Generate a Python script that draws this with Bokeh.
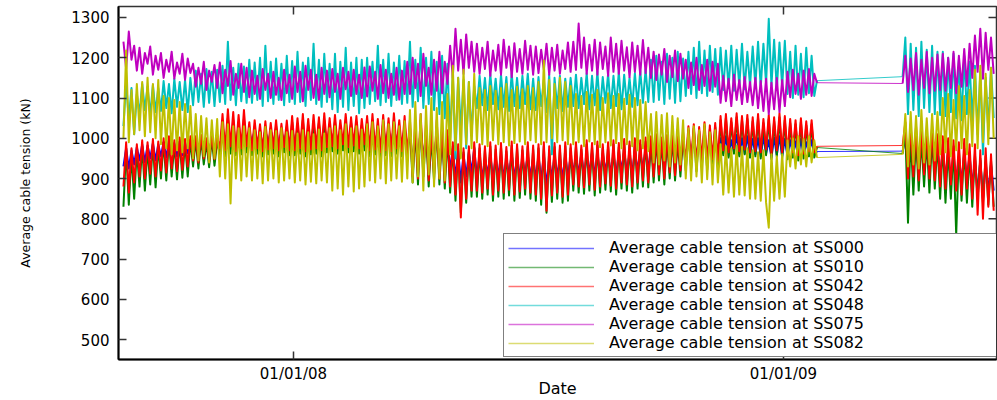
import math
import pandas as pd
from datetime import datetime, timedelta
from bokeh.plotting import figure
from bokeh.models import (ColumnDataSource, Range1d, FixedTicker, DatetimeTickFormatter,
                          Legend, LegendItem)
from bokeh.embed import file_html
from bokeh.resources import INLINE

# ---------------- data (2-day samples) ----------------
SEG1_START = "2007-08-27"   # first recording period
SEG2_START = "2009-03-31"   # second recording period (after the gap)
STEP = "2D"

stations = ["SS000", "SS010", "SS042", "SS048", "SS075", "SS082"]
colors = ["#0000FF", "#008000", "#FF0000", "#00BFBF", "#BF00BF", "#BFBF00"]

ss000_a = [930, 975, 925, 970, 935, 978,
           945, 985, 940, 982, 950, 988, 945, 985,
           955, 990, 952, 995, 960, 988, 955, 992, 958, 990, 962, 995,
           965, 995, 962, 998, 968, 990, 965, 1000, 968, 995,
           980, 1010, 978, 1020, 985, 1015, 978, 1010, 982, 1018, 985,
           1020, 982, 1025, 985, 1018, 980, 1022, 982, 1020, 985, 1025, 980, 1018, 988, 1022, 982,
           1025, 982, 1020, 985, 1030, 980, 1018, 982, 1028, 985, 1022, 980, 1030, 988,
           1020, 988, 1028, 985, 1015, 992, 1030, 988, 1022, 990, 1025, 985, 1018, 992,
           1025, 980, 1030, 982, 1018, 978, 1028, 980, 1020, 978, 1030, 985, 1015, 980, 1025,
           975, 1015, 940, 1010, 935, 1025, 950, 1005, 930, 995, 940, 1015, 935, 1005, 925, 995,
           920, 975, 900, 970, 890, 960, 905, 965, 915, 975,
           905, 955, 900, 950, 910, 960, 898, 952, 905, 958, 900, 950, 908, 962, 898, 955, 905, 950, 910, 960, 902, 952,
           900, 955, 895, 960, 880, 950, 900, 958, 905, 952, 898, 960, 902, 955,
           915, 958, 910, 962, 908, 955, 915, 965, 905, 960, 910, 962, 918, 958, 912, 962, 908, 965, 920, 968,
           915, 962, 912, 970, 920, 965, 925, 972, 922,
           975, 930, 980, 935, 972, 925, 978, 940, 982, 935, 975, 945, 985,
           955, 995, 960, 1000, 958, 992, 962, 1005, 958, 998, 965, 1002, 960,
           1000, 962, 1005, 955, 995, 965, 1008, 958, 1000, 962, 1005, 958, 998,
           960, 1000, 955, 1005, 962, 995, 952, 1002, 958, 1005, 955, 998,
           955, 995, 960, 992, 952, 998, 958, 990, 962, 995, 960, 967]
ss000_b = [968, 1000, 920, 995, 925, 990, 915, 985, 930, 980, 920, 990, 925, 975,
           905, 970, 900, 965, 890, 960, 895, 955, 890, 962, 900, 958,
           880, 950, 860, 945, 850, 940, 865, 935, 870]

ss010_a = [830, 975, 835, 960, 850, 970,
           880, 980, 870, 975, 885, 985, 878, 980,
           900, 990, 895, 995, 905, 985, 898, 992, 902, 988, 905, 995,
           930, 995, 925, 998, 935, 990, 928, 1000, 932, 992,
           960, 1040, 955, 1050, 962, 1045, 958, 1040, 960, 1048, 965,
           1025, 958, 1030, 962, 1022, 955, 1028, 960, 1025, 962, 1030, 955, 1022, 965, 1028, 958,
           1040, 958, 1035, 962, 1045, 955, 1032, 960, 1042, 962, 1038, 955, 1045, 965,
           1035, 968, 1042, 962, 1030, 970, 1045, 965, 1038, 968, 1040, 962, 1032, 970,
           1040, 955, 1045, 960, 1032, 952, 1042, 958, 1035, 955, 1045, 962, 1030, 955, 1040,
           945, 1030, 890, 1025, 885, 1045, 905, 1020, 880, 1005, 895, 1030, 885, 1015, 875, 1005,
           865, 980, 845, 975, 815, 965, 840, 970, 855, 978,
           855, 975, 850, 970, 860, 980, 845, 972, 855, 978, 850, 968, 858, 982, 845, 975, 852, 970, 860, 980, 850, 972,
           845, 975, 835, 980, 815, 970, 842, 978, 850, 972, 840, 980, 845, 975,
           870, 980, 865, 972, 862, 985, 870, 978, 858, 982, 865, 975, 872, 980, 868, 985, 860, 978, 875, 988,
           870, 982, 865, 990, 875, 985, 880, 992, 878,
           995, 890, 1000, 895, 992, 885, 998, 900, 1002, 895, 995, 905, 1005,
           920, 1020, 925, 1025, 918, 1018, 930, 1030, 922, 1022, 932, 1028, 928,
           1045, 958, 1050, 952, 1040, 962, 1052, 955, 1045, 960, 1048, 952, 1042,
           955, 1050, 950, 1038, 958, 1048, 948, 1042, 955, 1052, 950, 1045,
           948, 1038, 952, 1035, 945, 1040, 950, 1032, 955, 1035, 952, 977]
ss010_b = [962, 1020, 790, 1010, 860, 1005, 870, 1000, 880, 995, 865, 1005, 875, 990,
           850, 985, 840, 975, 850, 980, 760, 970, 845, 975, 840, 965,
           830, 960, 850, 950, 840, 955, 835, 945, 830]

ss042_a = [880, 990, 865, 975, 890, 985,
           905, 995, 900, 990, 912, 998, 905, 992,
           920, 1000, 915, 1005, 925, 995, 918, 1002, 922, 998, 930, 1005,
           945, 1005, 940, 1008, 950, 1000, 942, 1010, 948, 1002,
           975, 1060, 970, 1072, 980, 1065, 968, 1058, 975, 1070, 980,
           1040, 970, 1045, 975, 1035, 968, 1042, 972, 1038, 975, 1045, 970, 1036, 978, 1044, 970,
           1055, 970, 1050, 975, 1060, 968, 1048, 972, 1058, 975, 1052, 970, 1062, 978,
           1050, 980, 1058, 975, 1045, 985, 1060, 978, 1052, 982, 1055, 975, 1048, 985,
           1055, 970, 1060, 972, 1048, 965, 1058, 970, 1050, 968, 1062, 975, 1045, 968, 1055,
           960, 1045, 905, 1040, 900, 1060, 920, 1035, 895, 1020, 910, 1045, 900, 1030, 890, 1020,
           880, 990, 860, 985, 803, 975, 850, 980, 870, 990,
           870, 985, 865, 980, 875, 990, 860, 982, 870, 988, 865, 978, 872, 992, 860, 985, 868, 980, 875, 990, 865, 982,
           860, 985, 850, 990, 820, 980, 858, 988, 865, 982, 855, 990, 860, 985,
           885, 990, 880, 982, 878, 995, 885, 988, 872, 992, 880, 985, 888, 990, 882, 995, 875, 988, 890, 998,
           885, 992, 880, 1000, 890, 995, 895, 1002, 890,
           1005, 905, 1010, 910, 1002, 900, 1008, 915, 1012, 908, 1005, 920, 1015,
           935, 1030, 940, 1035, 932, 1028, 945, 1040, 938, 1032, 948, 1038, 942,
           1055, 970, 1060, 965, 1050, 975, 1062, 968, 1055, 972, 1058, 965, 1052,
           968, 1060, 965, 1048, 972, 1058, 960, 1052, 970, 1062, 965, 1055,
           960, 1048, 965, 1045, 958, 1050, 962, 1042, 968, 1045, 965, 980]
ss042_b = [982, 1040, 900, 1035, 905, 1030, 895, 1025, 910, 1020, 900, 1030, 895, 1010,
           880, 1005, 875, 1000, 885, 995, 870, 990, 860, 998, 875, 985,
           850, 985, 810, 970, 800, 975, 830, 960, 820]

ss048_a = [1030, 1140, 1045, 1125, 1010, 1110,
           1060, 1135, 1070, 1128, 1058, 1132, 1065, 1125,
           1068, 1142, 1075, 1135, 1062, 1148, 1078, 1140, 1070, 1145, 1065, 1150,
           1082, 1168, 1090, 1160, 1078, 1172, 1088, 1165, 1080, 1170,
           1090, 1180, 1085, 1240, 1095, 1175, 1082, 1185, 1092, 1178, 1088,
           1195, 1088, 1188, 1095, 1200, 1080, 1230, 1092, 1190, 1085, 1198, 1095, 1185, 1082, 1205, 1090,
           1192, 1085, 1215, 1090, 1188, 1080, 1200, 1095, 1235, 1085, 1195, 1078, 1210, 1090,
           1185, 1072, 1210, 1065, 1190, 1078, 1225, 1070, 1188, 1080, 1200, 1062, 1195, 1075,
           1200, 1085, 1190, 1092, 1230, 1082, 1195, 1090, 1210, 1080, 1188, 1095, 1205, 1085, 1192,
           1088, 1240, 1078, 1195, 1092, 1225, 1075, 1200, 1085, 1215, 1070, 1190, 1060, 1205, 1050, 1185,
           1000, 1160, 950, 1150, 1020, 1145, 975, 1140, 1010, 1130,
           1075, 1155, 1082, 1150, 1070, 1160, 1085, 1148, 1072, 1158, 1078, 1152, 1068, 1162, 1080, 1150, 1075, 1155, 1085, 1160, 1072, 1148,
           1070, 1152, 1080, 1145, 1065, 1158, 960, 1150, 1075, 1155, 1068, 1148, 1078, 1150,
           1080, 1158, 1075, 1150, 1085, 1162, 1072, 1155, 1082, 1165, 1070, 1152, 1088, 1160, 1075, 1155, 1080, 1165, 1072, 1158,
           1085, 1150, 1078, 1162, 1082, 1168, 1088, 1172, 1090,
           1195, 1090, 1205, 1095, 1190, 1085, 1210, 1098, 1200, 1088, 1215, 1092, 1198,
           1105, 1215, 1110, 1225, 1100, 1240, 1112, 1218, 1105, 1230, 1115, 1222, 1108,
           1225, 1120, 1218, 1125, 1230, 1118, 1220, 1128, 1235, 1122, 1215, 1130, 1228,
           1130, 1240, 1125, 1235, 1135, 1297, 1130, 1245, 1120, 1238, 1128, 1242,
           1110, 1215, 1100, 1230, 1108, 1210, 1102, 1225, 1112, 1205, 1105, 1143]
ss048_b = [1153, 1250, 1060, 1235, 1070, 1225, 1055, 1240, 1075, 1220, 1065, 1230, 1060, 1215,
           1058, 1215, 1055, 1200, 1065, 1210, 1050, 1195, 1045, 1205, 1060, 1190,
           1040, 1180, 1010, 1165, 960, 1150, 1020, 1175, 1050]

ss075_a = [1240, 1172, 1265, 1195, 1230, 1168,
           1225, 1160, 1212, 1185, 1228, 1158, 1205, 1170,
           1212, 1150, 1195, 1165, 1215, 1148, 1188, 1160, 1210, 1145, 1198, 1162,
           1185, 1128, 1175, 1135, 1190, 1120, 1168, 1140, 1182, 1125,
           1188, 1112, 1170, 1130, 1192, 1108, 1160, 1125, 1185, 1115, 1175,
           1102, 1168, 1110, 1155, 1098, 1172, 1120, 1160, 1100, 1165, 1108, 1150, 1095, 1170, 1112, 1158,
           1098, 1178, 1115, 1165, 1092, 1180, 1120, 1170, 1100, 1158, 1095, 1175, 1110, 1168,
           1102, 1172, 1115, 1160, 1098, 1175, 1122, 1165, 1105, 1170, 1110, 1158, 1100, 1176,
           1104, 1178, 1118, 1165, 1098, 1182, 1112, 1170, 1100, 1160, 1108, 1175, 1096, 1168, 1110,
           1190, 1110, 1200, 1125, 1185, 1105, 1210, 1130, 1175, 1108, 1195, 1118, 1215, 1112, 1190, 1135,
           1230, 1150, 1272, 1168, 1245, 1160, 1258, 1175, 1240, 1165,
           1235, 1160, 1225, 1172, 1240, 1155, 1218, 1168, 1232, 1158, 1245, 1175, 1228, 1152, 1236, 1165, 1222, 1160, 1242, 1170, 1230, 1158,
           1228, 1162, 1220, 1170, 1235, 1158, 1225, 1168, 1232, 1160, 1218, 1172, 1238, 1165,
           1240, 1170, 1285, 1175, 1250, 1160, 1232, 1168, 1245, 1158, 1238, 1172, 1228, 1155, 1250, 1165, 1235, 1160, 1242, 1168,
           1226, 1152, 1238, 1165, 1230, 1158, 1244, 1162, 1225,
           1150, 1215, 1145, 1208, 1158, 1222, 1140, 1205, 1152, 1218, 1142, 1210, 1148,
           1195, 1125, 1188, 1132, 1200, 1120, 1182, 1130, 1195, 1118, 1190, 1128, 1185,
           1088, 1155, 1092, 1148, 1080, 1158, 1095, 1145, 1085, 1152, 1090, 1140, 1082,
           1150, 1075, 1142, 1068, 1148, 1060, 1138, 1072, 1150, 1065, 1145, 1080,
           1165, 1102, 1170, 1110, 1160, 1098, 1168, 1108, 1172, 1105, 1160, 1138]
ss075_b = [1136, 1205, 1115, 1198, 1120, 1212, 1108, 1195, 1125, 1215, 1112, 1200, 1118, 1208,
           1120, 1210, 1118, 1200, 1125, 1215, 1112, 1205, 1128, 1222, 1130, 1235,
           1150, 1255, 1165, 1272, 1148, 1262, 1170, 1250, 1160]

ss082_a = [1000, 1218, 990, 1120, 1010, 1135,
           1020, 1140, 1005, 1150, 1015, 1135, 1000, 1145,
           985, 1105, 975, 1100, 960, 1095, 970, 1090, 965, 1085, 975, 1080,
           950, 1060, 945, 1055, 955, 1050, 940, 1045, 950, 1048,
           905, 1040, 900, 1035, 838, 1030, 900, 1025, 895, 1030, 905,
           1025, 895, 1020, 900, 1015, 888, 1028, 895, 1020, 900, 1018, 890, 1025, 895, 1015, 900,
           1018, 890, 1012, 895, 1020, 885, 1015, 892, 1010, 888, 1022, 895, 1012, 890,
           1025, 870, 1030, 875, 1020, 860, 1035, 880, 1025, 868, 1030, 875, 1022, 880,
           1035, 895, 1040, 890, 1030, 900, 1045, 888, 1035, 895, 1040, 900, 1030, 892, 1042,
           900, 1070, 890, 1090, 905, 1060, 870, 1080, 910, 1100, 880, 1075, 900, 1090, 895, 1110,
           960, 1180, 970, 1150, 950, 1170, 985, 1140, 975, 1160,
           990, 1125, 985, 1120, 980, 1130, 995, 1118, 985, 1125, 990, 1135, 982, 1120, 988, 1128, 992, 1122, 985, 1130, 995, 1125,
           990, 1140, 985, 1193, 990, 1145, 1000, 1135, 990, 1150, 995, 1140, 985, 1130,
           985, 1110, 990, 1105, 980, 1115, 992, 1108, 985, 1120, 978, 1100, 990, 1112, 982, 1105, 988, 1110, 975, 1098,
           985, 1108, 980, 1100, 970, 1095, 975, 1090, 968,
           1060, 940, 1065, 935, 1058, 945, 1062, 930, 1055, 940, 1050, 935, 1045,
           900, 1025, 895, 1030, 905, 1020, 890, 1035, 898, 1015, 885, 1020, 890,
           985, 860, 980, 865, 975, 855, 982, 860, 978, 858, 975, 850, 970,
           850, 965, 845, 970, 840, 778, 960, 845, 955, 850, 960, 855,
           995, 930, 1000, 925, 1005, 935, 998, 930, 1005, 940, 995, 952]
ss082_b = [960, 1060, 930, 1065, 935, 1055, 925, 1070, 940, 1050, 935, 1060, 945, 1065,
           960, 1100, 965, 1110, 955, 1095, 970, 1130, 975, 1105, 960, 1120,
           980, 1170, 975, 1180, 990, 1160, 985, 1175, 1000]

series = [(ss000_a, ss000_b), (ss010_a, ss010_b), (ss042_a, ss042_b),
          (ss048_a, ss048_b), (ss075_a, ss075_b), (ss082_a, ss082_b)]

y_ticks = [500, 600, 700, 800, 900, 1000, 1100, 1200, 1300]
x_tick_dates = ["2008-01-01", "2009-01-01"]

# ---------------- figure ----------------
FONT = "DejaVu Sans"
x_start = datetime(2008, 1, 1) - timedelta(days=130.7)
x_end = datetime(2009, 1, 1) + timedelta(days=159.1)
y_start, y_end = 450.4, 1327.3

p = figure(width=997, height=400, x_axis_type="datetime",
           x_range=Range1d(x_start, x_end), y_range=Range1d(y_start, y_end),
           output_backend="svg", toolbar_location=None,
           min_border_left=118, min_border_right=1, min_border_top=6, min_border_bottom=41)
p.grid.visible = False
p.outline_line_color = "#333333"
p.outline_line_width = 1.5
p.background_fill_color = "white"

x_tick_ms = [pd.Timestamp(d).value / 1e6 for d in x_tick_dates]
fmt = "%m/%d/%y"
xfmt = DatetimeTickFormatter(days=fmt, months=fmt, years=fmt, hours=fmt, hourmin=fmt,
                             minutes=fmt, minsec=fmt, seconds=fmt, milliseconds=fmt,
                             microseconds=fmt)

for ax in (p.xaxis[0], p.yaxis[0]):
    ax.axis_line_color = "black"
    ax.axis_line_width = 2
    ax.major_tick_in = 8
    ax.major_tick_out = 0
    ax.major_tick_line_color = "#333333"
    ax.major_tick_line_width = 1.5
    ax.minor_tick_line_color = None
    ax.major_label_text_font = FONT
    ax.major_label_text_font_size = "15px"
    ax.major_label_text_color = "black"
    ax.axis_label_text_font = FONT
    ax.axis_label_text_font_style = "normal"
    ax.axis_label_text_color = "black"

p.xaxis[0].ticker = FixedTicker(ticks=x_tick_ms)
p.xaxis[0].formatter = xfmt
p.xaxis[0].major_label_standoff = 5
p.xaxis[0].axis_label = "Date"
p.xaxis[0].axis_label_text_font_size = "16px"
p.xaxis[0].axis_label_standoff = -7

p.yaxis[0].ticker = FixedTicker(ticks=y_ticks)
p.yaxis[0].major_label_standoff = 9
p.yaxis[0].axis_label = "Average cable tension (kN)"
p.yaxis[0].axis_label_text_font_size = "12.5px"
p.yaxis[0].axis_label_standoff = 35

# inward tick marks on the top and right borders (half of each dash is clipped by the frame)
p.scatter(x=[x_end] * len(y_ticks), y=y_ticks, marker="dash", size=16,
          line_color="#333333", line_width=1.5)
p.scatter(x=[pd.Timestamp(d) for d in x_tick_dates], y=[y_end] * len(x_tick_dates),
          marker="dash", size=16, angle=math.pi / 2, line_color="#333333", line_width=1.5)

items = []
for name, col, (seg_a, seg_b) in zip(stations, colors, series):
    dates_a = list(pd.date_range(SEG1_START, periods=len(seg_a), freq=STEP))
    dates_b = list(pd.date_range(SEG2_START, periods=len(seg_b), freq=STEP))
    # thin straight joint across the data gap (last reading before it -> first after it)
    p.line(x=[dates_a[-1], dates_b[0]], y=[seg_a[-1], seg_b[0]],
           line_color=col, line_width=1.0, line_alpha=0.8)
    for d, v in ((dates_a, seg_a), (dates_b, seg_b)):
        src = ColumnDataSource(dict(x=d, y=v))
        p.line("x", "y", source=src, line_color=col, line_width=2.0, line_join="round")
    key = p.line(x=[float("nan")], y=[float("nan")], line_color=col, line_width=1.5, line_alpha=0.55)
    items.append(LegendItem(label="Average cable tension at " + name, renderers=[key]))

legend = Legend(items=items, location=(385, 2), orientation="vertical",
                border_line_color="black", border_line_width=1.5,
                background_fill_color="white", background_fill_alpha=1.0,
                padding=4, spacing=0, margin=0,
                glyph_height=18, glyph_width=86, label_height=18, label_standoff=15,
                label_width=385,
                label_text_font=FONT, label_text_font_size="16px", label_text_color="black")
p.add_layout(legend)

open("out.html", "w").write(file_html(p, INLINE))
